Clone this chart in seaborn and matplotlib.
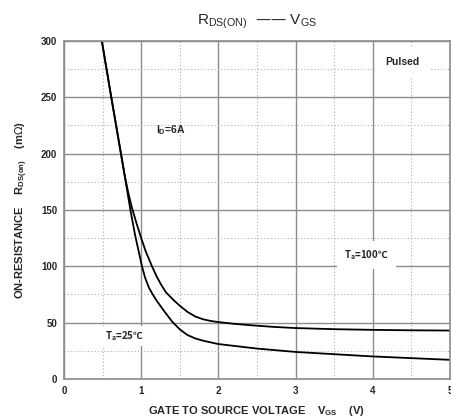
import numpy as np
import pandas as pd
import matplotlib
matplotlib.use("Agg")
import matplotlib.pyplot as plt
import seaborn as sns
from matplotlib.ticker import MultipleLocator

# --- data (Vgs in V, Rds(on) in mOhm) ---
vgs_25 = [0.49, 0.60, 0.70, 0.78, 0.86, 0.92, 1.01, 1.05, 1.10, 1.15, 1.20, 1.30,
          1.40, 1.50, 1.60, 1.70, 1.80, 1.90, 2.00, 2.50, 3.00, 3.50, 4.00, 4.50, 5.00]
rds_25 = [300, 255, 215, 183, 150, 128, 100, 90, 81, 75, 69.5, 60,
          51, 44, 39, 36, 34, 32.5, 31, 27, 24, 22, 20, 18.5, 17]

vgs_100 = [0.49, 0.60, 0.70, 0.78, 0.83, 0.88, 0.94, 1.00, 1.06, 1.14, 1.20, 1.26,
           1.32, 1.42, 1.50, 1.60, 1.70, 1.80, 1.90, 2.00, 2.20, 2.40, 2.70, 3.00,
           3.50, 4.00, 4.50, 5.00]
rds_100 = [300, 255, 215, 183, 166, 152, 138, 125, 113, 100, 91, 83.5,
           77, 70, 65, 59.5, 55.5, 53, 51.5, 50.5, 49, 47.8, 46.3, 45.2,
           44.2, 43.6, 43.2, 43]

df = pd.concat([
    pd.DataFrame({"vgs": vgs_25, "rds": rds_25, "temp": "25"}),
    pd.DataFrame({"vgs": vgs_100, "rds": rds_100, "temp": "100"}),
])

sns.set_style("white")
plt.rcParams["font.family"] = ["Liberation Sans", "Noto Sans CJK JP", "DejaVu Sans"]

fig = plt.figure(figsize=(4.52, 4.19), dpi=100)
ax = fig.add_axes([0.1416, 0.0955, 0.854, 0.8067])

sns.lineplot(data=df, x="vgs", y="rds", hue="temp", palette=["black", "black"],
             sort=False, estimator=None, linewidth=1.3, legend=False, ax=ax)

ax.set_xlim(0, 5)
ax.set_ylim(0, 300)
ax.xaxis.set_major_locator(MultipleLocator(1))
ax.xaxis.set_minor_locator(MultipleLocator(0.5))
ax.yaxis.set_major_locator(MultipleLocator(50))
ax.yaxis.set_minor_locator(MultipleLocator(25))
ax.grid(which="major", color="#8c8c8c", linewidth=1.0, linestyle="-")
ax.grid(which="minor", color="#b0b0b0", linewidth=0.8, linestyle=(0, (1, 2)))
ax.set_axisbelow(True)
for s in ax.spines.values():
    s.set_color("#8c8c8c")
    s.set_linewidth(1.2)
ax.tick_params(which="major", direction="out", length=3, width=0.8,
               color="#8c8c8c", labelsize=7, pad=2)
ax.tick_params(which="minor", length=0)
for lab in ax.get_xticklabels() + ax.get_yticklabels():
    lab.set_fontweight("bold")

ax.set_xlabel(r"GATE TO SOURCE VOLTAGE    V$_{\mathregular{GS}}$    (V)",
              fontsize=8, fontweight="bold", labelpad=6)
ax.set_ylabel(r"ON-RESISTANCE    R$_{\mathregular{DS(on)}}$    (m$\Omega$)",
              fontsize=8, fontweight="bold", labelpad=8)
ax.set_title(r"R$_{\mathregular{DS(ON)}}$  —— V$_{\mathregular{GS}}$",
             fontsize=11, pad=12)

ax.text(4.38, 281, "Pulsed", fontsize=7.5, fontweight="bold", ha="center",
        va="center", bbox=dict(facecolor="white", edgecolor="none", pad=7))
ax.text(1.38, 221, r"I$_{\mathregular{D}}$=6A", fontsize=7.5, ha="center",
        va="center", fontweight="bold")
ax.text(3.92, 110, "T$_{\\mathregular{a}}$=100℃", fontsize=7, ha="center",
        va="center", fontweight="bold", family="Noto Sans CJK JP",
        bbox=dict(facecolor="white", edgecolor="none", pad=5))
ax.text(0.78, 38, "T$_{\\mathregular{a}}$=25℃", fontsize=7, ha="center",
        va="center", fontweight="bold", family="Noto Sans CJK JP",
        bbox=dict(facecolor="white", edgecolor="none", pad=2))

fig.savefig("out.png", dpi=100)
